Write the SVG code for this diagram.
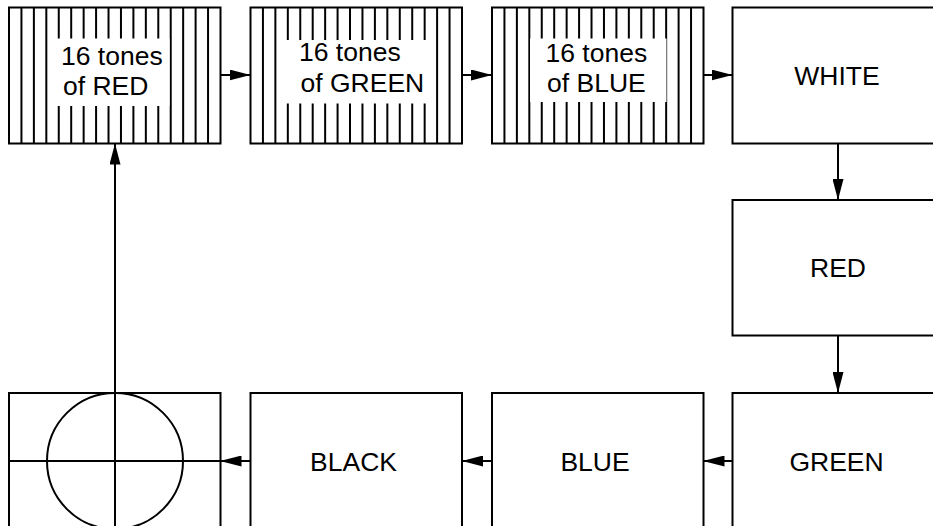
<svg xmlns="http://www.w3.org/2000/svg" width="933" height="526" viewBox="0 0 933 526">
<style>
.box{fill:none;stroke:#000;stroke-width:2}
.bg{fill:#fff}
.stripe{stroke:#000;stroke-width:2}
.patch{fill:#fff}
.lbl{font-family:"Liberation Sans",Arial,sans-serif;font-size:26.5px;fill:#000}
.mid{text-anchor:middle}
.conn{stroke:#000;stroke-width:2;fill:none;marker-end:url(#arrow)}
.cross{stroke:#000;stroke-width:2;fill:none}
</style>
<defs>
<marker id="arrow" viewBox="0 0 21 11" refX="21" refY="5.5" markerWidth="21" markerHeight="11" markerUnits="userSpaceOnUse" orient="auto">
<path d="M0,0 L21,5.5 L0,11 Z" fill="#000"/>
</marker>
<g id="stripes">
<line class="stripe" x1="12.44" y1="0" x2="12.44" y2="136"/>
<line class="stripe" x1="24.88" y1="0" x2="24.88" y2="136"/>
<line class="stripe" x1="37.32" y1="0" x2="37.32" y2="136"/>
<line class="stripe" x1="49.76" y1="0" x2="49.76" y2="136"/>
<line class="stripe" x1="62.2" y1="0" x2="62.2" y2="136"/>
<line class="stripe" x1="74.64" y1="0" x2="74.64" y2="136"/>
<line class="stripe" x1="87.08" y1="0" x2="87.08" y2="136"/>
<line class="stripe" x1="99.52" y1="0" x2="99.52" y2="136"/>
<line class="stripe" x1="111.96" y1="0" x2="111.96" y2="136"/>
<line class="stripe" x1="124.4" y1="0" x2="124.4" y2="136"/>
<line class="stripe" x1="136.84" y1="0" x2="136.84" y2="136"/>
<line class="stripe" x1="149.28" y1="0" x2="149.28" y2="136"/>
<line class="stripe" x1="161.72" y1="0" x2="161.72" y2="136"/>
<line class="stripe" x1="174.16" y1="0" x2="174.16" y2="136"/>
<line class="stripe" x1="186.6" y1="0" x2="186.6" y2="136"/>
<line class="stripe" x1="199.04" y1="0" x2="199.04" y2="136"/>
</g>
</defs>
<rect width="933" height="526" fill="#fff"/>

<g id="connectors">
<line class="conn" x1="220.5" y1="75" x2="250.5" y2="75"/>
<line class="conn" x1="462" y1="75" x2="492" y2="75"/>
<line class="conn" x1="703.5" y1="75" x2="732.5" y2="75"/>
<line class="conn" x1="838" y1="143" x2="838" y2="200"/>
<line class="conn" x1="838" y1="335.5" x2="838" y2="393"/>
<line class="conn" x1="732.5" y1="461" x2="703.5" y2="461"/>
<line class="conn" x1="492" y1="461" x2="462" y2="461"/>
<line class="conn" x1="250.5" y1="461" x2="220.5" y2="461"/>
<line class="conn" x1="115" y1="393" x2="115" y2="143.5"/>
</g>

<g id="node-red-tones">
<rect class="bg" x="9" y="7.5" width="211.5" height="136"/>
<use href="#stripes" x="9" y="7.5"/>
<rect class="patch" x="55" y="38.5" width="114.5" height="67.5"/>
<rect class="box" x="9" y="7.5" width="211.5" height="136"/>
<text class="lbl"><tspan x="61" y="65">16 tones</tspan><tspan x="63" y="95">of RED</tspan></text>
</g>

<g id="node-green-tones">
<rect class="bg" x="250.5" y="7.5" width="211.5" height="136"/>
<use href="#stripes" x="250.5" y="7.5"/>
<rect class="patch" x="279" y="40" width="152" height="63.5"/>
<rect class="box" x="250.5" y="7.5" width="211.5" height="136"/>
<text class="lbl"><tspan x="299" y="61">16 tones</tspan><tspan x="300.5" y="92">of GREEN</tspan></text>
</g>

<g id="node-blue-tones">
<rect class="bg" x="492" y="7.5" width="211.5" height="136"/>
<use href="#stripes" x="492" y="7.5"/>
<rect class="patch" x="530" y="38.5" width="136.5" height="63.5"/>
<rect class="box" x="492" y="7.5" width="211.5" height="136"/>
<text class="lbl"><tspan x="545.5" y="62">16 tones</tspan><tspan x="547" y="92">of BLUE</tspan></text>
</g>

<g id="node-white">
<rect class="box" x="732.5" y="7.5" width="211.5" height="136"/>
<text class="lbl mid" x="837" y="84.5">WHITE</text>
</g>

<g id="node-red">
<rect class="box" x="732.5" y="200" width="211.5" height="135.5"/>
<text class="lbl mid" x="838" y="277">RED</text>
</g>

<g id="node-green">
<rect class="box" x="732.5" y="393" width="211.5" height="136"/>
<text class="lbl mid" x="836.5" y="470.5">GREEN</text>
</g>

<g id="node-blue">
<rect class="box" x="492" y="393" width="211.5" height="136"/>
<text class="lbl mid" x="595" y="470.5">BLUE</text>
</g>

<g id="node-black">
<rect class="box" x="250.5" y="393" width="211.5" height="136"/>
<text class="lbl mid" x="353.5" y="470.5">BLACK</text>
</g>

<g id="node-crosshair">
<rect class="box" x="9" y="393" width="211.5" height="136"/>
<circle class="cross" cx="115" cy="461" r="68"/>
<line class="cross" x1="9" y1="461" x2="220.5" y2="461"/>
<line class="cross" x1="115" y1="393" x2="115" y2="529"/>
</g>
</svg>
